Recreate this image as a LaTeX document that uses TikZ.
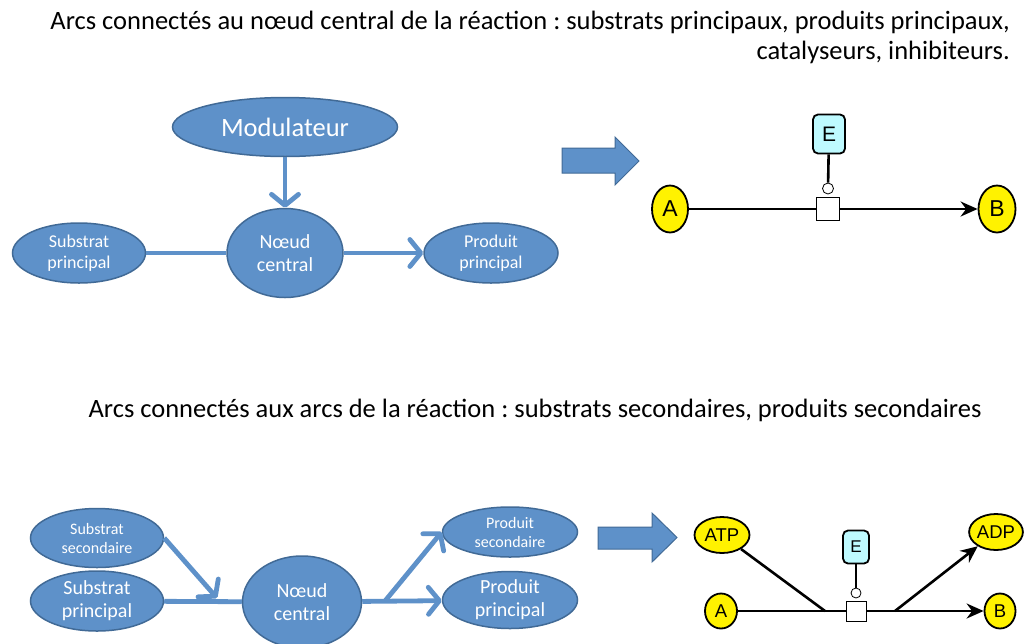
\documentclass[tikz,border=0pt]{standalone}
\usepackage{fontspec}
\setmainfont{Carlito}
\newfontfamily\arialfont{Liberation Sans}
\usetikzlibrary{shapes.geometric,arrows.meta}
\definecolor{nodeblue}{RGB}{94,145,201}
\definecolor{nodeedge}{RGB}{65,106,150}
\definecolor{enzcyan}{RGB}{190,250,255}
\frenchspacing
\begin{document}
\begin{tikzpicture}[x=1pt,y=-1pt,
	blue node/.style = {ellipse,draw=nodeedge,fill=nodeblue,line width=1.5pt,text=white,inner sep=0pt,align=center},
	big text/.style = {font=\fontsize{20}{23}\selectfont},
	small text/.style = {font=\fontsize{18}{20.5}\selectfont},
	blue arc/.style = {draw=nodeblue,line width=4.8pt},
	blue arrow/.style = {blue arc,-{Straight Barb[length=11pt,width=27pt,round]}},
	block arrow/.style = {fill=nodeblue,draw=nodeedge,line width=1pt},
	species/.style = {ellipse,draw=black,fill=yellow,line width=1.8pt,inner sep=0pt},
	enzyme/.style = {rectangle,rounded corners=5pt,draw=black,fill=enzcyan,line width=1.8pt,inner sep=0pt},
	process/.style = {rectangle,draw=black,fill=white,line width=1pt,inner sep=0pt},
	modifier/.style = {circle,draw=black,fill=white,line width=0.8pt,inner sep=0pt},
	sbgn arc/.style = {draw=black,line width=2.6pt},
	sbgn arrow/.style = {sbgn arc,-{Stealth[length=17pt,width=15pt]}}]

	\useasboundingbox (0,0) rectangle (1027,643);

	\node[anchor=east,align=right,inner sep=0pt,font=\fontsize{26.5}{30}\selectfont] (titre1) at (1010,37)
		{Arcs connectés au nœud central de la réaction : substrats principaux, produits principaux,\\catalyseurs, inhibiteurs.};
	\node[inner sep=0pt,font=\fontsize{26.5}{30}\selectfont] (titre2) at (535,410)
		{Arcs connectés aux arcs de la réaction : substrats secondaires, produits secondaires};

	\node[blue node,minimum width=225pt,minimum height=59pt,font=\fontsize{26.5}{30}\selectfont] (mod) at (285,127) {Modulateur};
	\node[blue node,big text,minimum width=116pt,minimum height=89pt] (noeud1) at (285,253) {Nœud\\central};
	\node[blue node,small text,minimum width=133pt,minimum height=60pt] (sub1) at (79,253) {Substrat\\principal};
	\node[blue node,small text,minimum width=134pt,minimum height=60pt] (prod1) at (491,253) {Produit\\principal};

	\draw[blue arc] (sub1) -- (noeud1);
	\draw[blue arrow] (noeud1) -- (prod1);
	\draw[blue arrow] (mod) -- (noeud1);

	\filldraw[block arrow] (562,148) -- (615,148) -- (615,137) -- (639,161) -- (615,185) -- (615,173) -- (562,173) -- cycle;

	\node[species,minimum width=36pt,minimum height=47pt,font=\arialfont\fontsize{23}{26}\selectfont] (A1) at (670,209) {A};
	\node[species,minimum width=37pt,minimum height=47pt,font=\arialfont\fontsize{23}{26}\selectfont] (B1) at (997,209) {B};
	\node[process,minimum size=23pt] (P1) at (828,209) {};
	\node[modifier,minimum size=11pt] (cat1) at (828,188.5) {};
	\node[enzyme,minimum width=32pt,minimum height=39pt,font=\arialfont\fontsize{21}{24}\selectfont] (E1) at (829,134) {E};

	\draw[sbgn arc] (A1) -- (P1);
	\draw[sbgn arrow] (P1) -- (B1);
	\draw[sbgn arc] (E1) -- (cat1);

	\node[blue node,font=\fontsize{16}{19}\selectfont,minimum width=133pt,minimum height=59pt] (sub2s) at (97,538) {Substrat\\secondaire};
	\node[blue node,big text,minimum width=133pt,minimum height=60pt] (sub2p) at (97,601) {Substrat\\principal};
	\node[blue node,big text,minimum width=119pt,minimum height=92pt] (noeud2) at (302,602) {Nœud\\central};
	\node[blue node,font=\fontsize{16}{19}\selectfont,minimum width=135pt,minimum height=50pt] (prod2s) at (510,532) {Produit\\secondaire};
	\node[blue node,big text,minimum width=135pt,minimum height=57pt] (prod2p) at (510,600) {Produit\\principal};
	\coordinate (j1) at (217,598);
	\coordinate (j2) at (385,601);

	\draw[blue arc] (sub2p) -- (noeud2);
	\draw[blue arrow] (noeud2) -- (prod2p);
	\draw[blue arrow] (sub2s.east) -- (j1);
	\draw[blue arrow] (j2) -- (prod2s.west);

	\filldraw[block arrow] (598,527) -- (652,527) -- (652,513) -- (677,537.5) -- (652,562) -- (652,549) -- (598,549) -- cycle;

	\node[species,minimum width=55pt,minimum height=36pt,font=\arialfont\fontsize{18.5}{21}\selectfont] (atp) at (722,535) {ATP};
	\node[species,minimum width=49pt,minimum height=36pt,font=\arialfont\fontsize{18.5}{21}\selectfont] (adp) at (996,532) {ADP};
	\node[species,minimum width=32pt,minimum height=35pt,font=\arialfont\fontsize{18.5}{21}\selectfont] (A2) at (721,611) {A};
	\node[species,minimum width=31pt,minimum height=35pt,font=\arialfont\fontsize{18.5}{21}\selectfont] (B2) at (1000,611) {B};
	\node[process,minimum size=20pt] (P2) at (856,611) {};
	\node[modifier,minimum size=10pt] (cat2) at (856,593) {};
	\node[enzyme,minimum width=26pt,minimum height=33pt,font=\arialfont\fontsize{17}{20}\selectfont] (E2) at (856,547) {E};
	\coordinate (j3) at (825,611);
	\coordinate (j4) at (895,611);

	\draw[sbgn arc] (A2) -- (P2);
	\draw[sbgn arrow] (P2) -- (B2);
	\draw[sbgn arc] (atp) -- (j3);
	\draw[sbgn arrow] (j4) -- (adp);
	\draw[sbgn arc] (E2) -- (cat2);
\end{tikzpicture}
\end{document}
